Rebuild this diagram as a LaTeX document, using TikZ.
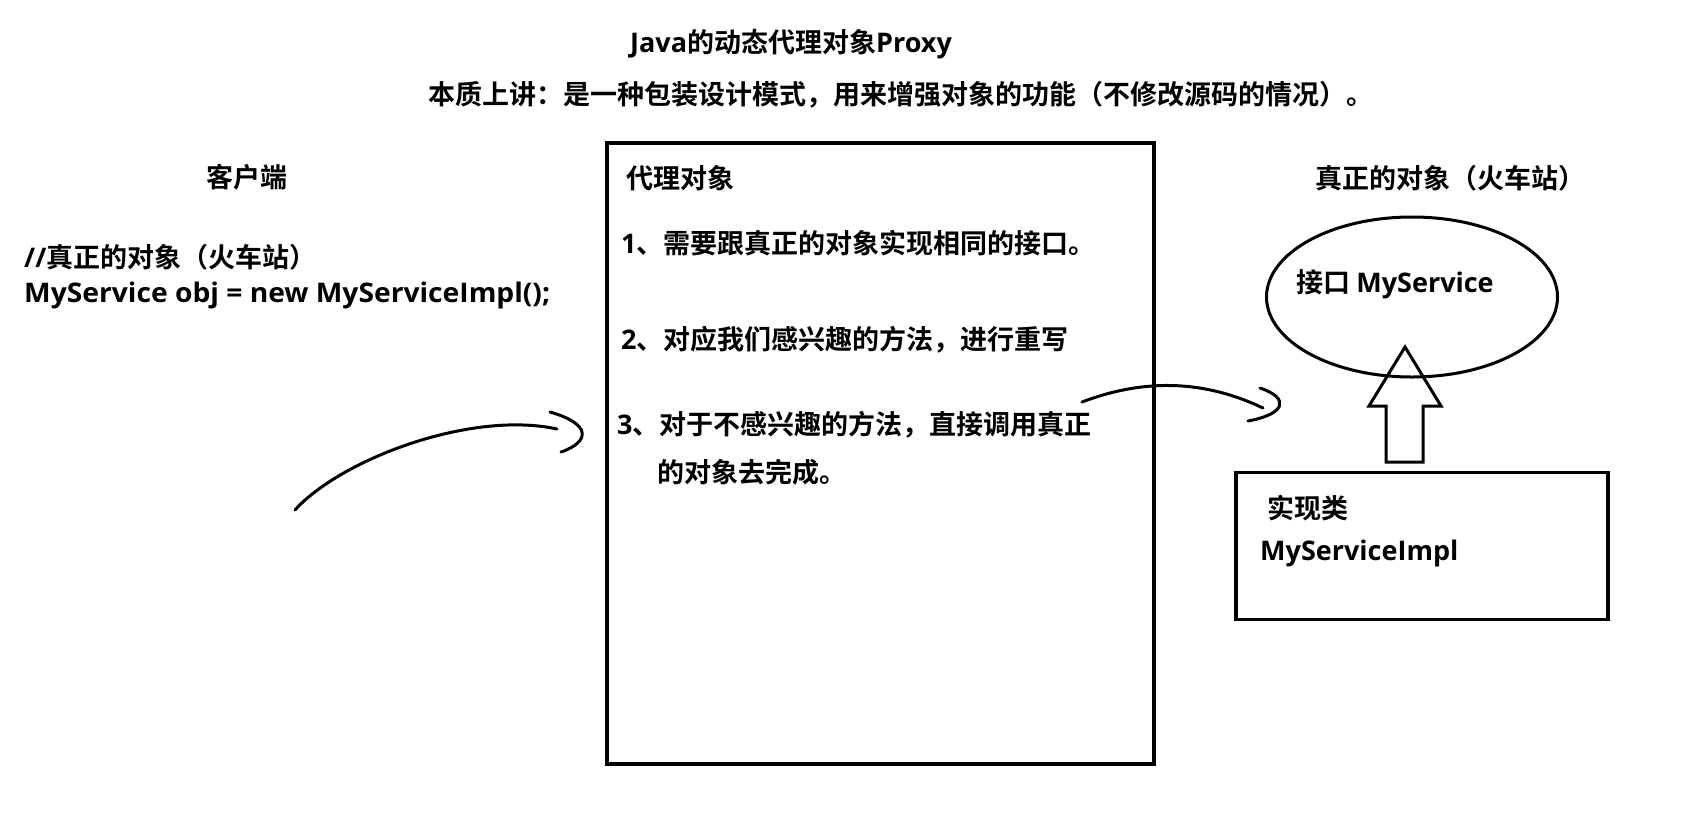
\documentclass[tikz,border=0pt]{standalone}
\usepackage{fontspec}
\setmainfont{Noto Sans CJK SC}[BoldFont={Noto Sans CJK SC Bold}]
\newfontfamily\lat{Open Sans}[BoldFont={Open Sans Bold}]
\newfontfamily\latwide{Open Sans}[BoldFont={Open Sans Bold},FakeStretch=1.045]
\usetikzlibrary{calc,shapes.geometric}
\begin{document}
\begin{tikzpicture}[x=1pt,y=-1pt,
  txt/.style={anchor=west,inner sep=0pt,font=\fontsize{27}{30}\selectfont\bfseries},
  frame/.style={draw,line width=4pt},
  ovalline/.style={draw,line width=3pt},
  stroke/.style={line width=3pt,line cap=round,line join=round}]
\useasboundingbox (0,0) rectangle (1708,820);
\fill[white] (0,0) rectangle (1708,820);

% headline
\node[txt] (title) at (630,44) {{\lat Java}的动态代理对象{\lat Proxy}};
\node[txt] (sub) at (428,95) {本质上讲：是一种包装设计模式，用来增强对象的功能（不修改源码的情况）。};

% client side
\node[txt] (client) at (206,177) {客户端};
\node[txt] (c1) at (24,257) {{\lat //}真正的对象（火车站）};
\node[txt] (c2) at (24,295) {\latwide MyService obj = new MyServiceImpl();};

% proxy object
\node[frame,minimum width=547pt,minimum height=621pt,inner sep=0pt] (proxy) at (880.5,453.5) {};
\node[txt] (ptitle) at (626,178) {代理对象};
\node[txt] (p1) at (621,243) {{\lat 1}、需要跟真正的对象实现相同的接口。};
\node[txt] (p2) at (621,340) {{\lat 2}、对应我们感兴趣的方法，进行重写};
\node[txt] (p3) at (617,425) {{\lat 3}、对于不感兴趣的方法，直接调用真正};
\node[txt] (p3b) at (657,472) {的对象去完成。};

% real object
\node[txt] (real) at (1315,178) {真正的对象（火车站）};
\node[ovalline,ellipse,minimum width=291pt,minimum height=160pt,inner sep=0pt] (iface) at (1412,297) {};
\node[txt] (ifacetxt) at (1296,284) {接口 {\lat MyService}};
\node[draw,line width=3.5pt,minimum width=372pt,minimum height=147pt,inner sep=0pt] (impl) at (1422,546) {};
\node[txt] (impl1) at (1267,508) {实现类};
\node[txt] (impl2) at (1260,553) {\lat MyServiceImpl};

% hollow arrow: implementation realises the interface
\draw[stroke,line cap=butt,line join=miter]
  (1405,347) -- (1441,406) -- (1423,406) -- (1423,462) -- (1386,462)
  -- (1386,406) -- (1369,406) -- cycle;

% client calls the proxy
\coordinate (cstart) at (295,510);
\coordinate (cend) at (557,429);
\draw[stroke] (cstart) .. controls (340,460) and (470,410) .. (cend);
\draw[stroke] (550,412) .. controls (592,424) and (590,442) .. (561,452);

% proxy forwards to the real object
\coordinate (fstart) at (1082,402);
\coordinate (fend) at (1263,408);
\draw[stroke] (fstart) .. controls (1140,380) and (1200,378) .. (fend);
\draw[stroke] (1260,388) .. controls (1290,398) and (1286,414) .. (1248,421);
\end{tikzpicture}
\end{document}
